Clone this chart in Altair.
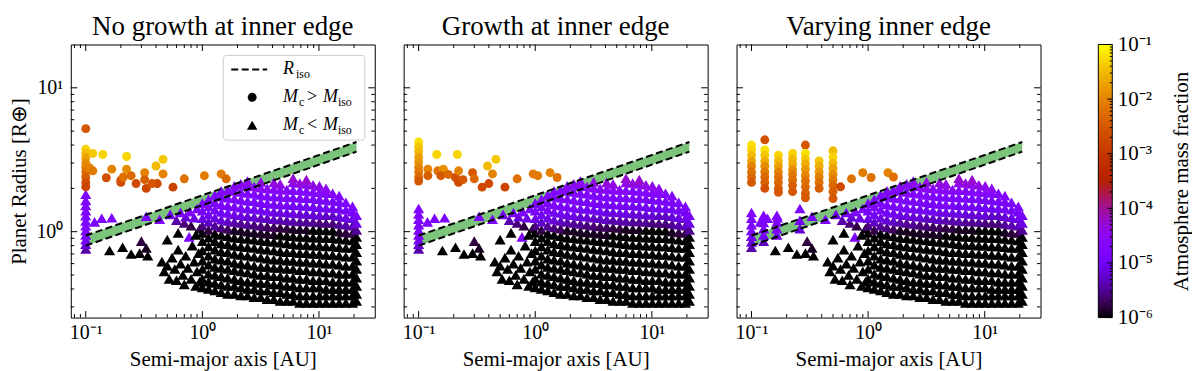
import altair as alt
import pandas as pd

# ---------------- data ----------------
TITLES = ["No growth at inner edge", "Growth at inner edge", "Varying inner edge"]

# dense triangle columns (M_c < M_iso); lf = log10(atmosphere mass fraction), -6 means <= 1e-6
TRI_COL_X = [1.0, 1.13, 1.28, 1.45, 1.65, 1.88, 2.14, 2.44, 2.78, 3.17, 3.6, 4.1, 4.65,
             5.3, 6.0, 6.85, 7.8, 8.9, 10.1, 11.5, 13.1, 14.9, 17.0, 19.4, 21.0]
TRI_COL_Y = [
    [0.41, 0.47, 0.55, 0.63, 0.74, 0.86, 0.98, 1.1, 1.24, 1.4, 1.58],
    [0.40, 0.45, 0.51, 0.59, 0.68, 0.79, 0.91, 1.03, 1.17, 1.32, 1.5, 1.68],
    [0.39, 0.44, 0.5, 0.57, 0.65, 0.75, 0.86, 0.97, 1.1, 1.25, 1.42, 1.6, 1.8],
    [0.38, 0.43, 0.49, 0.56, 0.64, 0.73, 0.83, 0.95, 1.07, 1.21, 1.37, 1.55, 1.75, 1.92],
    [0.37, 0.42, 0.48, 0.55, 0.63, 0.72, 0.82, 0.93, 1.05, 1.19, 1.35, 1.52, 1.72, 1.95],
    [0.37, 0.42, 0.47, 0.54, 0.61, 0.7, 0.8, 0.91, 1.03, 1.17, 1.32, 1.5, 1.7, 1.92, 2.08],
    [0.36, 0.41, 0.46, 0.53, 0.6, 0.69, 0.79, 0.9, 1.02, 1.15, 1.3, 1.47, 1.67, 1.89, 2.15],
    [0.36, 0.4, 0.45, 0.52, 0.59, 0.68, 0.78, 0.89, 1.0, 1.13, 1.28, 1.45, 1.64, 1.86, 2.1, 2.25],
    [0.35, 0.4, 0.45, 0.51, 0.58, 0.67, 0.77, 0.88, 0.99, 1.12, 1.27, 1.44, 1.63, 1.84, 2.06],
    [0.35, 0.39, 0.44, 0.5, 0.57, 0.66, 0.76, 0.87, 0.98, 1.1, 1.25, 1.42, 1.6, 1.8, 2.02, 2.22],
    [0.34, 0.39, 0.44, 0.5, 0.57, 0.65, 0.75, 0.86, 0.97, 1.09, 1.24, 1.4, 1.58, 1.78, 2.0],
    [0.34, 0.38, 0.43, 0.49, 0.56, 0.64, 0.74, 0.85, 0.96, 1.08, 1.22, 1.38, 1.56, 1.76, 1.98, 2.2],
    [0.33, 0.38, 0.43, 0.49, 0.56, 0.64, 0.73, 0.84, 0.95, 1.07, 1.21, 1.37, 1.55, 1.75, 1.96, 2.15],
    [0.33, 0.37, 0.42, 0.48, 0.55, 0.63, 0.72, 0.83, 0.94, 1.06, 1.2, 1.36, 1.54, 1.74, 1.96],
    [0.33, 0.37, 0.42, 0.48, 0.55, 0.63, 0.72, 0.82, 0.93, 1.05, 1.19, 1.35, 1.53, 1.73, 1.95, 2.2, 2.35],
    [0.32, 0.36, 0.41, 0.47, 0.54, 0.62, 0.71, 0.81, 0.92, 1.04, 1.18, 1.34, 1.52, 1.72, 1.94, 2.18],
    [0.32, 0.36, 0.41, 0.47, 0.54, 0.62, 0.71, 0.81, 0.92, 1.04, 1.18, 1.33, 1.51, 1.71, 1.92, 2.15, 2.3],
    [0.32, 0.36, 0.41, 0.46, 0.53, 0.61, 0.7, 0.8, 0.91, 1.03, 1.17, 1.32, 1.5, 1.7, 1.9, 2.12],
    [0.32, 0.36, 0.41, 0.46, 0.53, 0.61, 0.7, 0.8, 0.91, 1.03, 1.16, 1.31, 1.48, 1.68, 1.88, 2.08],
    [0.32, 0.36, 0.4, 0.46, 0.52, 0.6, 0.69, 0.79, 0.9, 1.02, 1.15, 1.3, 1.47, 1.66, 1.86, 2.0],
    [0.32, 0.36, 0.4, 0.45, 0.52, 0.6, 0.69, 0.79, 0.9, 1.02, 1.15, 1.3, 1.46, 1.64, 1.85],
    [0.32, 0.36, 0.4, 0.45, 0.51, 0.59, 0.68, 0.78, 0.89, 1.0, 1.13, 1.28, 1.45, 1.62, 1.78],
    [0.32, 0.36, 0.4, 0.45, 0.51, 0.58, 0.67, 0.77, 0.88, 0.99, 1.12, 1.26, 1.42, 1.6],
    [0.32, 0.36, 0.4, 0.45, 0.51, 0.58, 0.67, 0.77, 0.87, 0.98, 1.1, 1.24, 1.38, 1.5],
    [0.33, 0.37, 0.42, 0.48, 0.55, 0.63, 0.72, 0.82, 0.92, 1.03, 1.15, 1.3],
]
TRI_COL_LF = [
    [-6, -6, -6, -6, -6, -6, -6, -5.6, -5.1, -4.9, -4.8],
    [-6, -6, -6, -6, -6, -6, -6, -5.8, -5.3, -5.0, -4.8, -4.8],
    [-6, -6, -6, -6, -6, -6, -6, -6, -5.5, -5.1, -4.9, -4.8, -4.8],
    [-6, -6, -6, -6, -6, -6, -6, -6, -5.6, -5.2, -5.0, -4.8, -4.8, -4.7],
    [-6, -6, -6, -6, -6, -6, -6, -6, -5.7, -5.3, -5.0, -4.9, -4.8, -4.7],
    [-6, -6, -6, -6, -6, -6, -6, -6, -5.9, -5.4, -5.1, -4.9, -4.8, -4.7, -4.6],
    [-6, -6, -6, -6, -6, -6, -6, -6, -5.9, -5.5, -5.1, -4.9, -4.8, -4.7, -4.6],
    [-6, -6, -6, -6, -6, -6, -6, -6, -5.9, -5.5, -5.2, -5.0, -4.85, -4.75, -4.6, -4.5],
    [-6, -6, -6, -6, -6, -6, -6, -6, -5.9, -5.6, -5.2, -5.0, -4.85, -4.75, -4.6],
    [-6, -6, -6, -6, -6, -6, -6, -6, -5.9, -5.6, -5.3, -5.0, -4.9, -4.8, -4.6, -4.4],
    [-6, -6, -6, -6, -6, -6, -6, -6, -5.9, -5.7, -5.3, -5.0, -4.9, -4.8, -4.6],
    [-6, -6, -6, -6, -6, -6, -6, -6, -5.9, -5.7, -5.3, -5.1, -4.9, -4.8, -4.6, -4.35],
    [-6, -6, -6, -6, -6, -6, -6, -6, -6, -5.8, -5.4, -5.1, -4.9, -4.8, -4.6, -4.4],
    [-6, -6, -6, -6, -6, -6, -6, -6, -6, -5.8, -5.4, -5.1, -4.9, -4.8, -4.6],
    [-6, -6, -6, -6, -6, -6, -6, -6, -6, -5.9, -5.4, -5.1, -5.0, -4.8, -4.7, -4.45, -4.25],
    [-6, -6, -6, -6, -6, -6, -6, -6, -6, -5.9, -5.5, -5.2, -5.0, -4.8, -4.7, -4.35],
    [-6, -6, -6, -6, -6, -6, -6, -6, -6, -5.9, -5.5, -5.2, -5.0, -4.85, -4.7, -4.45, -4.25],
    [-6, -6, -6, -6, -6, -6, -6, -6, -6, -6, -5.5, -5.2, -5.0, -4.85, -4.7, -4.4],
    [-6, -6, -6, -6, -6, -6, -6, -6, -6, -6, -5.6, -5.2, -5.0, -4.85, -4.7, -4.45],
    [-6, -6, -6, -6, -6, -6, -6, -6, -6, -6, -5.6, -5.3, -5.0, -4.9, -4.7, -4.5],
    [-6, -6, -6, -6, -6, -6, -6, -6, -6, -6, -5.6, -5.3, -5.0, -4.9, -4.7],
    [-6, -6, -6, -6, -6, -6, -6, -6, -6, -5.9, -5.5, -5.2, -5.0, -4.85, -4.7],
    [-6, -6, -6, -6, -6, -6, -6, -6, -6, -5.8, -5.4, -5.1, -4.95, -4.8],
    [-6, -6, -6, -6, -6, -6, -6, -6, -6, -5.8, -5.4, -5.1, -4.95, -4.8],
    [-6, -6, -6, -6, -6, -6, -6, -6, -6, -5.5, -5.1, -4.9],
]

# sparse triangles in the inner region (shared)
TRI_SP_X = [0.119, 0.137, 0.167, 0.16, 0.207, 0.245, 0.29, 0.30, 0.34, 0.33, 0.33, 0.43,
            0.45, 0.47, 0.5, 0.52, 0.55, 0.58, 0.6, 0.62, 0.65, 0.68, 0.7, 0.72, 0.75, 0.8,
            0.82, 0.85, 0.88, 0.9, 0.93, 0.95,
            0.53, 0.6, 0.65, 0.7, 0.72, 0.78, 0.8, 0.77, 0.85, 0.9, 0.95, 0.88, 0.62, 0.5]
TRI_SP_Y = [1.17, 1.24, 1.25, 0.74, 0.78, 0.70, 0.71, 0.86, 0.68, 0.77, 1.28, 1.22,
            0.62, 0.53, 0.58, 0.47, 0.66, 0.55, 0.46, 0.75, 0.6, 0.5, 0.43, 0.68, 0.56, 0.47,
            0.8, 0.62, 0.42, 0.53, 0.71, 0.45,
            1.32, 1.2, 1.36, 1.15, 1.27, 1.38, 1.1, 0.92, 1.25, 1.45, 1.05, 0.95, 0.98, 0.88]
TRI_SP_LF = [-4.8, -4.8, -4.8, -6, -6, -6, -6, -5.8, -6, -5.9, -4.8, -4.8,
             -6, -6, -6, -6, -6, -6, -6, -6, -6, -6, -6, -6, -6, -6,
             -6, -6, -6, -6, -6, -6,
             -5.0, -5.4, -4.9, -5.6, -5.2, -4.8, -5.8, -4.8, -5.1, -4.8, -5.9, -6, -6, -6]

# triangles at the inner edge, per panel
STRIP_X = [
    [0.1] * 12,
    [0.1] * 9,
    [0.1] * 7 + [0.127] * 5 + [0.165] * 4 + [0.26] * 3,
]
STRIP_Y = [
    [0.76, 0.82, 0.88, 0.95, 1.02, 1.1, 1.19, 1.29, 1.4, 1.52, 1.65, 1.82],
    [0.76, 0.82, 0.88, 0.95, 1.03, 1.12, 1.22, 1.33, 1.45],
    [0.78, 0.85, 0.93, 1.02, 1.12, 1.24, 1.36, 0.86, 0.95, 1.05, 1.16, 1.3,
     0.95, 1.05, 1.17, 1.3, 1.05, 1.2, 1.45],
]
STRIP_LF = [
    [-5.4, -5.2, -5.0, -4.9, -4.8, -4.8, -4.8, -4.8, -4.8, -4.8, -4.8, -4.75],
    [-5.4, -5.2, -5.0, -4.9, -4.8, -4.8, -4.8, -4.8, -4.75],
    [-5.4, -5.2, -5.0, -4.9, -4.8, -4.8, -4.75, -5.3, -5.0, -4.9, -4.8, -4.75,
     -5.1, -4.9, -4.8, -4.75, -5.2, -4.9, -4.8],
]

# circles (M_c > M_iso), per panel
CIRC_X = [
    [0.1, 0.1, 0.1, 0.1, 0.1, 0.1, 0.1, 0.1, 0.1, 0.1,
     0.108, 0.115, 0.115, 0.14, 0.15, 0.167, 0.2, 0.2, 0.224, 0.224, 0.21, 0.27, 0.32, 0.32,
     0.33, 0.4, 0.41, 0.46, 0.46, 0.56, 0.7, 1.04, 1.45, 1.6, 0.245, 0.37],
    [0.1, 0.1, 0.1, 0.1, 0.1, 0.1, 0.1, 0.1, 0.1,
     0.143, 0.215, 0.12, 0.12, 0.146, 0.163, 0.155, 0.18, 0.207, 0.22, 0.24, 0.22, 0.29,
     0.3, 0.35, 0.39, 0.43, 0.46, 0.4, 0.55, 0.7, 0.96, 1.05, 1.34, 1.54],
    [0.1, 0.1, 0.1, 0.1, 0.1, 0.1, 0.1, 0.1,
     0.13, 0.13, 0.13, 0.13, 0.13, 0.13, 0.13, 0.13, 0.13,
     0.17, 0.17, 0.17, 0.17, 0.17, 0.17, 0.17, 0.17,
     0.225, 0.225, 0.225, 0.225, 0.225, 0.225, 0.225, 0.225,
     0.29, 0.29, 0.29, 0.29, 0.29, 0.29, 0.29, 0.29, 0.29, 0.29,
     0.38, 0.38, 0.38, 0.38, 0.38, 0.38,
     0.5, 0.5, 0.5, 0.5, 0.5, 0.5, 0.5, 0.5, 0.5,
     0.58, 0.72, 0.9, 1.06, 1.48, 1.65],
]
CIRC_Y = [
    [5.2, 3.75, 3.5, 3.25, 3.0, 2.8, 2.6, 2.4, 2.2, 2.05,
     2.77, 3.5, 2.65, 3.44, 2.37, 2.72, 2.2, 2.28, 3.33, 2.72, 2.4, 2.16, 2.57, 2.3,
     2.0, 2.86, 2.16, 3.18, 2.52, 2.04, 2.33, 2.45, 2.52, 2.33, 2.45, 2.16],
    [4.2, 3.9, 3.6, 3.3, 3.05, 2.8, 2.6, 2.4, 2.25,
     3.44, 3.44, 2.72, 2.45, 2.65, 2.72, 2.45, 2.5, 2.38, 2.2, 2.3, 2.65, 2.57,
     2.33, 2.04, 2.86, 2.52, 3.18, 2.16, 2.04, 2.33, 2.52, 2.45, 2.57, 2.38],
    [4.0, 3.7, 3.4, 3.1, 2.85, 2.6, 2.4, 2.2,
     4.35, 3.7, 3.4, 3.1, 2.85, 2.6, 2.4, 2.2, 2.0,
     3.4, 3.1, 2.85, 2.6, 2.4, 2.2, 2.0, 1.88,
     3.5, 3.2, 2.95, 2.7, 2.5, 2.3, 2.1, 1.9,
     4.0, 3.5, 3.2, 2.95, 2.7, 2.45, 2.25, 2.05, 1.85, 1.72,
     3.1, 2.85, 2.6, 2.4, 2.2, 2.0,
     3.65, 3.3, 3.0, 2.75, 2.5, 2.3, 2.1, 1.9, 1.7,
     2.05, 2.33, 2.57, 2.38, 2.57, 2.4],
]
CIRC_LF = [
    [-2.5, -1.3, -1.5, -1.7, -1.9, -2.0, -2.2, -2.4, -2.6, -2.8,
     -2.0, -1.4, -2.1, -1.3, -2.6, -2.0, -2.7, -2.6, -1.3, -1.9, -2.2, -2.7, -2.0, -2.4,
     -2.8, -1.5, -2.7, -1.4, -2.0, -2.8, -2.2, -2.1, -2.1, -2.3, -2.3, -2.5],
    [-1.2, -1.4, -1.5, -1.7, -1.8, -2.0, -2.1, -2.3, -2.5,
     -1.3, -1.3, -2.0, -2.4, -2.2, -1.9, -2.5, -2.3, -2.6, -2.7, -2.5, -2.0, -2.5,
     -2.3, -2.7, -1.5, -2.0, -1.4, -2.7, -2.8, -2.2, -2.1, -2.1, -2.0, -2.2],
    [-1.2, -1.3, -1.5, -1.7, -2.0, -2.2, -2.3, -2.5,
     -2.6, -1.2, -1.4, -1.6, -1.9, -2.1, -2.3, -2.4, -2.6,
     -1.3, -1.5, -1.7, -2.0, -2.2, -2.3, -2.4, -2.5,
     -1.3, -1.5, -1.6, -1.9, -2.1, -2.2, -2.4, -2.5,
     -2.5, -1.2, -1.4, -1.6, -1.8, -2.0, -2.2, -2.3, -2.4, -2.5,
     -1.4, -1.6, -1.8, -2.0, -2.2, -2.4,
     -1.5, -1.3, -1.5, -1.7, -1.9, -2.1, -2.3, -2.4, -2.5,
     -2.7, -2.2, -2.1, -2.2, -2.0, -2.2],
]

# R_iso band (upper/lower edge)
BAND_X = [0.1, 21.0]
BAND_LO = [0.80, 3.6]
BAND_HI = [0.94, 4.2]

# ticks
X_MAJOR = [0.1, 1, 10]
X_MINOR = [0.08, 0.09, 0.2, 0.3, 0.4, 0.5, 0.6, 0.7, 0.8, 0.9,
           2, 3, 4, 5, 6, 7, 8, 9, 20]
Y_MAJOR = [1, 10]
Y_MINOR = [0.3, 0.4, 0.5, 0.6, 0.7, 0.8, 0.9, 2, 3, 4, 5, 6, 7, 8, 9]
CB_MAJOR = [1e-6, 1e-5, 1e-4, 1e-3, 1e-2, 1e-1]
CB_MINOR = [m * d for d in [1e-6, 1e-5, 1e-4, 1e-3, 1e-2] for m in range(2, 10)]

# gnuplot colour map, 21 stops
GNU = ["#000000", "#39004f", "#510096", "#6301ce", "#7202f3", "#8004ff", "#8c07f3",
       "#970bce", "#a11096", "#ab174f", "#b42000", "#bd2a00", "#c63700", "#ce4600",
       "#d55700", "#dd6c00", "#e48300", "#eb9d00", "#f2ba00", "#f9db00", "#ffff00"]
LF_STOPS = [-6 + 0.25 * k for k in range(21)]

# ---------------- layout / style ----------------
W, H = 305, 274
XDOM = [0.0744, 30.1]
YDOM = [0.253, 20.0]
FONT = "Liberation Serif"

SUP = ("datum.value < 0.5e-5 ? '10⁻⁶' : datum.value < 0.5e-4 ? '10⁻⁵' : "
       "datum.value < 0.5e-3 ? '10⁻⁴' : datum.value < 0.5e-2 ? '10⁻³' : "
       "datum.value < 0.05 ? '10⁻²' : datum.value < 0.5 ? '10⁻¹' : "
       "datum.value < 5 ? '10⁰' : '10¹'")

color_scale = alt.Scale(domain=LF_STOPS, range=GNU, clamp=True, interpolate="rgb")


def rows_from_cols(xs, ys, lfs):
    out = []
    for x, yl, fl in zip(xs, ys, lfs):
        for y, f in zip(yl, fl):
            out.append({"x": x, "y": y, "lf": f})
    return out


bulk_rows = rows_from_cols(TRI_COL_X, TRI_COL_Y, TRI_COL_LF)
sparse_rows = [{"x": x, "y": y, "lf": f} for x, y, f in zip(TRI_SP_X, TRI_SP_Y, TRI_SP_LF)]


def panel(i):
    xs = alt.Scale(type="log", domain=XDOM, nice=False)
    ys = alt.Scale(type="log", domain=YDOM, nice=False)
    xaxis = alt.Axis(values=X_MAJOR, labelExpr=SUP, title="Semi-major axis [AU]",
                     ticks=False, domain=False, grid=False, labelPadding=5,
                     titlePadding=6, labelFlush=False)
    if i == 0:
        yaxis = alt.Axis(values=Y_MAJOR, labelExpr=SUP, title="Planet Radius [R⊕]",
                         ticks=False, domain=False, grid=False, labelPadding=8,
                         titlePadding=6, labelFlush=False)
    else:
        yaxis = None

    def X(f="x"):
        return alt.X(f + ":Q", scale=xs, axis=xaxis)

    def Y(f="y"):
        if yaxis is None:
            return alt.Y(f + ":Q", scale=ys, axis=None)
        return alt.Y(f + ":Q", scale=ys, axis=yaxis)

    strip_rows = [{"x": x, "y": y, "lf": f}
                  for x, y, f in zip(STRIP_X[i], STRIP_Y[i], STRIP_LF[i])]
    tri_df = pd.DataFrame(strip_rows + sparse_rows + bulk_rows)
    circ_df = pd.DataFrame({"x": CIRC_X[i], "y": CIRC_Y[i], "lf": CIRC_LF[i]})
    band_df = pd.DataFrame({"x": BAND_X, "y": BAND_LO, "y2": BAND_HI})
    line_df = pd.DataFrame({"x": BAND_X + BAND_X, "y": BAND_LO + BAND_HI,
                            "which": ["lo", "lo", "hi", "hi"]})

    band = alt.Chart(band_df).mark_area(color="#7cc47c", opacity=1).encode(
        x=X(), y=Y(), y2="y2:Q")
    tri = alt.Chart(tri_df).mark_point(shape="triangle-up", filled=True, size=125,
                                       opacity=1, strokeWidth=0).encode(
        x=X(), y=Y(), color=alt.Color("lf:Q", scale=color_scale, legend=None))
    circ = alt.Chart(circ_df).mark_circle(size=80, opacity=1).encode(
        x=X(), y=Y(), color=alt.Color("lf:Q", scale=color_scale, legend=None))
    lines = alt.Chart(line_df).mark_line(color="black", strokeWidth=2,
                                         strokeDash=[7, 3.5]).encode(
        x=X(), y=Y(), detail="which:N")

    layers = [band, tri, circ, lines]
    for vals, ln in [(X_MAJOR, 6.5), (X_MINOR, 3.5)]:
        d = pd.DataFrame({"x": vals})
        layers.append(alt.Chart(d).mark_rule(color="black", strokeWidth=1).encode(
            x=X(), y=alt.value(H), y2=alt.value(H - ln)))
        layers.append(alt.Chart(d).mark_rule(color="black", strokeWidth=1).encode(
            x=X(), y=alt.value(0), y2=alt.value(ln)))
    for vals, ln in [(Y_MAJOR, 6.5), (Y_MINOR, 3.5)]:
        d = pd.DataFrame({"y": vals})
        layers.append(alt.Chart(d).mark_rule(color="black", strokeWidth=1).encode(
            y=Y(), x=alt.value(0), x2=alt.value(ln)))
        layers.append(alt.Chart(d).mark_rule(color="black", strokeWidth=1).encode(
            y=Y(), x=alt.value(W), x2=alt.value(W - ln)))

    if i == 0:
        one = pd.DataFrame({"a": [0]})
        layers.append(alt.Chart(one).mark_rect(fill="white", fillOpacity=0.8,
                                               stroke="#cccccc", strokeWidth=1,
                                               cornerRadius=3).encode(
            x=alt.value(153), x2=alt.value(295), y=alt.value(11), y2=alt.value(96)))
        layers.append(alt.Chart(one).mark_rule(color="black", strokeWidth=2,
                                               strokeDash=[7, 3.5]).encode(
            x=alt.value(161), x2=alt.value(197), y=alt.value(25)))
        layers.append(alt.Chart(one).mark_point(shape="circle", filled=True, size=80,
                                                color="black", opacity=1).encode(
            x=alt.value(182), y=alt.value(53)))
        layers.append(alt.Chart(one).mark_point(shape="triangle-up", filled=True,
                                                size=110, color="black",
                                                opacity=1).encode(
            x=alt.value(182), y=alt.value(81)))

        def txt(t, x, y, size, italic):
            kw = dict(text=t, font=FONT, fontSize=size, align="left",
                      baseline="middle", color="black")
            if italic:
                kw["fontStyle"] = "italic"
            return alt.Chart(one).mark_text(**kw).encode(x=alt.value(x), y=alt.value(y))

        layers += [
            txt("R", 213, 25, 18, True), txt("iso", 226, 30, 12, False),
            txt("M", 213, 53, 18, True), txt("c", 229, 58, 12, False),
            txt(">", 237, 53, 18, False), txt("M", 253, 53, 18, True),
            txt("iso", 268, 58, 12, False),
            txt("M", 213, 81, 18, True), txt("c", 229, 86, 12, False),
            txt("<", 237, 81, 18, False), txt("M", 253, 81, 18, True),
            txt("iso", 268, 86, 12, False),
        ]

    return alt.layer(*layers).properties(
        width=W, height=H,
        title=alt.TitleParams(TITLES[i], font=FONT, fontSize=27, fontWeight="normal",
                              color="black", anchor="middle", offset=3))


# colour bar
CBW = 43
cb_scale = alt.Scale(type="log", domain=[1e-6, 1e-1], nice=False)
cb_axis = alt.Axis(values=CB_MAJOR, labelExpr=SUP, orient="right",
                   title="Atmosphere mass fraction", ticks=False, domain=False,
                   grid=False, labelPadding=5, titlePadding=18, labelFontSize=21,
                   titleFontSize=21, titleAngle=270, titleBaseline="top",
                   labelFlush=False)
one = pd.DataFrame({"a": [0]})
grad = alt.Chart(one).mark_rect(
    fill=alt.LinearGradient(gradient="linear",
                            stops=[alt.GradientStop(color=c, offset=k / 20)
                                   for k, c in enumerate(GNU)],
                            x1=0, x2=0, y1=1, y2=0),
    stroke="black", strokeWidth=1).encode(
    x=alt.value(CBW - 14), x2=alt.value(CBW), y=alt.value(0), y2=alt.value(H))
cb_maj = alt.Chart(pd.DataFrame({"v": CB_MAJOR})).mark_rule(color="black").encode(
    y=alt.Y("v:Q", scale=cb_scale, axis=cb_axis), x=alt.value(CBW), x2=alt.value(CBW - 5))
cb_min = alt.Chart(pd.DataFrame({"v": CB_MINOR})).mark_rule(color="black").encode(
    y=alt.Y("v:Q", scale=cb_scale, axis=cb_axis), x=alt.value(CBW), x2=alt.value(CBW - 2.5))
cbar = alt.layer(grad, cb_maj, cb_min).properties(
    width=CBW, height=H, view=alt.ViewBackground(stroke="transparent"))

chart = alt.hconcat(panel(0), panel(1), panel(2), cbar, spacing=29, bounds="flush").properties(
    padding={"left": 0, "top": 4, "right": 0, "bottom": 0}
).configure_view(stroke="black", strokeWidth=1).configure_axis(
    labelFont=FONT, titleFont=FONT, labelFontSize=20, titleFontSize=21,
    titleFontWeight="normal", labelColor="black", titleColor="black")

chart.save("out.html", embed_options={"renderer": "svg", "actions": False})
